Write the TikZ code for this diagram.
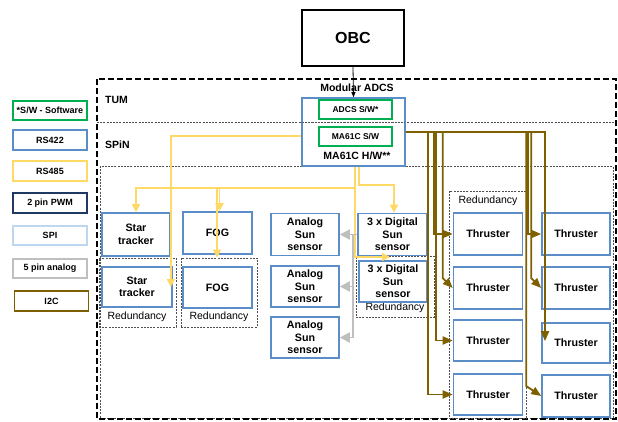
\documentclass[tikz,border=0pt]{standalone}
\usepackage{fontspec}
\setmainfont{Liberation Sans}
\usetikzlibrary{arrows.meta}
\definecolor{bluebox}{RGB}{91,141,201}
\definecolor{greenbox}{RGB}{0,176,80}
\definecolor{rsyellow}{RGB}{255,217,102}
\definecolor{pwmblue}{RGB}{31,56,100}
\definecolor{spiblue}{RGB}{189,215,238}
\definecolor{anagrey}{RGB}{191,191,191}
\definecolor{i2cbrown}{RGB}{127,96,0}
\definecolor{dashgrey}{RGB}{80,80,80}
\begin{document}
\begin{tikzpicture}[x=1pt,y=-1pt,
  wh/.style 2 args={minimum width=#1pt,minimum height=#2pt},
  unit/.style={draw=bluebox,line width=1.6pt,fill=white,align=center,inner sep=1pt,
    font=\fontsize{10.7}{12.6}\selectfont\bfseries,wh={69}{42}},
  swbox/.style={draw=greenbox,line width=1.6pt,fill=white,inner sep=1pt,
    font=\fontsize{8.5}{10}\selectfont\bfseries},
  legend/.style={line width=1.8pt,fill=white,inner sep=1pt,wh={74}{19.5},
    font=\fontsize{9}{10}\selectfont\bfseries},
  redbox/.style={draw=dashgrey,line width=0.6pt,dash pattern=on 2pt off 1.2pt,inner sep=0pt},
  redtext/.style={font=\fontsize{10.5}{12}\selectfont,inner sep=0pt},
  lbl/.style={font=\fontsize{10.5}{12}\selectfont\bfseries,inner sep=0pt},
  region/.style={draw=dashgrey,line width=0.6pt,dash pattern=on 2pt off 1.2pt},
  yel/.style={draw=rsyellow,line width=1.8pt,-{Triangle[length=8pt,width=8pt]}},
  gry/.style={draw=anagrey,line width=1.8pt,-{Triangle[length=10pt,width=10pt]}},
  brn/.style={draw=i2cbrown,line width=1.8pt,-{Triangle[length=10pt,width=8pt]}},
  blk/.style={draw=black,line width=0.8pt,-{Triangle[length=5pt,width=4pt]}}]
\useasboundingbox (0,0) rectangle (618,421);

% ---- frame of the Modular ADCS and its regions
\draw[region] (97,122) -- (616,122);
\draw[region] (100,166) rectangle (613,418);
\draw[line width=2pt,dash pattern=on 6pt off 3pt] (97,79) rectangle (616,419);
\node[lbl] (madcs) at (357,88) {Modular ADCS};
\node[lbl,anchor=west] (tum) at (105,100) {TUM};
\node[lbl,anchor=west] (spin) at (105,145) {SPiN};

% ---- legend
\node[legend,draw=greenbox] (lsw) at (50,110.5) {*S/W - Software};
\node[legend,draw=bluebox] (l422) at (50,140) {RS422};
\node[legend,draw=rsyellow] (l485) at (50,171) {RS485};
\node[legend,draw=pwmblue] (lpwm) at (50,203) {2 pin PWM};
\node[legend,draw=spiblue] (lspi) at (50,235.5) {SPI};
\node[legend,draw=anagrey] (lana) at (50,268.5) {5 pin analog};
\node[legend,draw=i2cbrown] (li2c) at (51.5,301) {I2C};

% ---- on-board computer and ADCS hardware
\node[draw=black,line width=1.5pt,wh={102}{56},font=\fontsize{16}{18}\selectfont\bfseries] (obc) at (353,38) {OBC};
\node[draw=bluebox,line width=1.6pt,wh={103}{68}] (hw) at (353.5,132) {};
\node[swbox,wh={73}{19}] (adsw) at (355.5,109.5) {ADCS S/W*};
\node[swbox,wh={73}{19}] (masw) at (355.5,136.5) {MA61C S/W};
\node[lbl] (hwl) at (357,156) {MA61C H/W**};
\draw[region] (302,122) -- (405,122);

% ---- redundancy groups
\node[redbox,wh={77}{69}] (rst) at (137.5,292.5) {};
\node[redtext] (rstl) at (137,317) {Redundancy};
\node[redbox,wh={76}{69}] (rfog) at (219,292.5) {};
\node[redtext] (rfogl) at (219,317) {Redundancy};
\node[redbox,wh={78}{61}] (rdg) at (395,286.5) {};
\node[redtext] (rdgl) at (395,308) {Redundancy};
\node[redbox,wh={77}{227}] (rth) at (487.5,304.5) {};
\node[redtext] (rthl) at (488,201) {Redundancy};

% ---- sensors
\node[unit,wh={68}{43}] (st1) at (136,234.5) {Star\\tracker};
\node[unit,wh={70}{40}] (st2) at (137,287) {Star\\tracker};
\node[unit] (fog1) at (217.5,233) {FOG};
\node[unit,wh={69}{41}] (fog2) at (217.5,287.5) {FOG};
\node[unit,wh={68}{42}] (an1) at (305,234.5) {Analog\\Sun\\sensor};
\node[unit,wh={68}{41}] (an2) at (305,286.5) {Analog\\Sun\\sensor};
\node[unit,wh={68}{41}] (an3) at (305,337.5) {Analog\\Sun\\sensor};
\node[unit] (dg1) at (392.5,234.5) {3 x Digital\\Sun\\sensor};
\node[unit,wh={68}{41}] (dg2) at (393,281.5) {3 x Digital\\Sun\\sensor};

% ---- thrusters
\node[unit] (t1) at (488,234) {Thruster};
\node[unit] (t2) at (488,288) {Thruster};
\node[unit,wh={69}{41}] (t3) at (488,340.5) {Thruster};
\node[unit,wh={69}{41}] (t4) at (488,394.5) {Thruster};
\node[unit,wh={68}{42}] (r1) at (576,234) {Thruster};
\node[unit,wh={68}{42}] (r2) at (576,288) {Thruster};
\node[unit,wh={68}{40}] (r3) at (576,343) {Thruster};
\node[unit,wh={68}{42}] (r4) at (576,396) {Thruster};

% ---- OBC link
\draw[blk] (obc.south) -- (hw.north);

% ---- RS485 links
\coordinate (ybus) at (355,188);
\coordinate (dgin) at (390,257);
\draw[yel] ([yshift=-4pt]hw.west) -| ([xshift=-2pt]st2.east);
\draw[yel] ([xshift=5.5pt]hw.south) -- ++(0,18) -| ([xshift=1.5pt]dg1.north);
\draw[yel] ([xshift=1.5pt]hw.south) |- (dgin);
\draw[yel] (ybus) -| (st1.north);
\draw[yel] ([xshift=2pt]fog1.north |- ybus) -- ([xshift=2pt]fog1.north);
\draw[yel] ([xshift=-2pt]rfog.north |- ybus) -- ([xshift=-2pt]rfog.north);

% ---- analog sun sensor lines
\draw[gry] (dg1.west) -- (an1.east);
\draw[gry] ([xshift=-4pt]dg1.west) |- (an3.east);
\draw[gry] ([xshift=-4pt]dg1.west |- an2.east) -- (an2.east);

% ---- I2C links to the thrusters
\draw[brn] (hw.east) -| ([xshift=-18.5pt]t1.west) -- (t1.west);
\draw[brn] (hw.east) -| ([xshift=-10pt,yshift=10pt]t2.west) -- (t2.west);
\draw[brn] (hw.east) -| ([xshift=-17pt]t3.west) -- (t3.west);
\draw[brn] (hw.east) -| ([xshift=-25pt]t4.west) -- (t4.west);
\draw[brn] (hw.east) -| ([xshift=-13pt]r1.west) -- (r1.west);
\draw[brn] (hw.east) -| ([xshift=-10pt,yshift=10pt]r2.west) -- (r2.west);
\draw[brn] (hw.east) -| ([xshift=-31pt,yshift=-19pt]r3.north);
\draw[brn] (hw.east) -| ([xshift=-15pt,yshift=10pt]r4.west) -- (r4.west);
\end{tikzpicture}
\end{document}
